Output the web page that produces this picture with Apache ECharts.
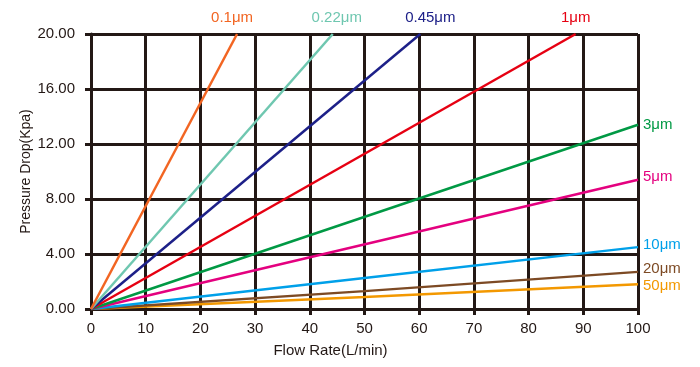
<!DOCTYPE html>
<html><head><meta charset="utf-8">
<script src="https://cdn.jsdelivr.net/npm/echarts@6/dist/echarts.min.js"></script>
<style>html,body{margin:0;padding:0;background:#fff}#c{width:700px;height:367px}</style>
</head><body><div id="c"></div>
<script>
const xTicks = [0,10,20,30,40,50,60,70,80,90,100];
const yTicks = ['0.00','4.00','8.00','12.00','16.00','20.00'];
const names = ['0.1μm','0.22μm','0.45μm','1μm','3μm','5μm','10μm','20μm','50μm'];
const colors = ['#f26522','#6fc7b0','#1d2088','#e60012','#009944','#e4007f','#00a0e9','#7d4a24','#f39800'];
const s01 = [[0,0],[26.7,20]];
const s022 = [[0,0],[44.2,20]];
const s045 = [[0,0],[60.2,20]];
const s1 = [[0,0],[88.6,20]];
const s3 = [[0,0],[100,13.4]];
const s5 = [[0,0],[100,9.4]];
const s10 = [[0,0],[50,2.25],[100,4.5]];
const s20 = [[0,0],[50,1.3],[100,2.7]];
const s50 = [[0,0],[50,0.87],[100,1.8]];
const seriesData = [s01,s022,s045,s1,s3,s5,s10,s20,s50];
const atTop = [true,true,true,true,false,false,false,false,false];
const labelOff = [[-5,-9],[4,-9],[10,-9],[0,-9],[5,0],[5,-3],[5,-2],[5,-3],[5,2]];

const chart = echarts.init(document.getElementById('c'));
const dark = '#231815';
const font = 'Liberation Sans';
chart.setOption({
  animation:false,
  grid:{left:91,right:62,top:34,bottom:58},
  xAxis:{type:'value',min:0,max:100,interval:10,
    name:'Flow Rate(L/min)',nameLocation:'middle',nameGap:34,nameMoveOverlap:false,
    nameTextStyle:{fontFamily:font,fontSize:15,color:dark,padding:[0,68,0,0]},
    axisLine:{show:true,lineStyle:{color:dark,width:3}},
    axisTick:{show:true,length:6,lineStyle:{color:dark,width:3}},
    axisLabel:{fontFamily:font,fontSize:15,color:dark,margin:12},
    splitLine:{show:true,lineStyle:{color:dark,width:3}}},
  yAxis:{type:'value',min:0,max:20,interval:4,
    name:'Pressure Drop(Kpa)',nameLocation:'middle',nameGap:58,nameMoveOverlap:false,
    nameTextStyle:{fontFamily:font,fontSize:14,color:dark},
    axisLine:{show:true,lineStyle:{color:dark,width:3}},
    axisTick:{show:true,length:6,lineStyle:{color:dark,width:3}},
    axisLabel:{fontFamily:font,fontSize:15,color:dark,margin:16,
      formatter:v=>yTicks[Math.round(v/4)]},
    splitLine:{show:true,lineStyle:{color:dark,width:3}}},
  series: seriesData.map((d,i)=>({
    type:'line',name:names[i],showSymbol:false,symbol:'none',
    lineStyle:{color:colors[i],width:2.5},
    data:d,
    endLabel:{show:true,formatter:names[i],distance:0,
      align:atTop[i]?'center':'left',verticalAlign:atTop[i]?'bottom':'middle',
      offset:labelOff[i],color:colors[i],fontFamily:font,fontSize:15},
    z: 10-i
  }))
});
</script></body></html>
